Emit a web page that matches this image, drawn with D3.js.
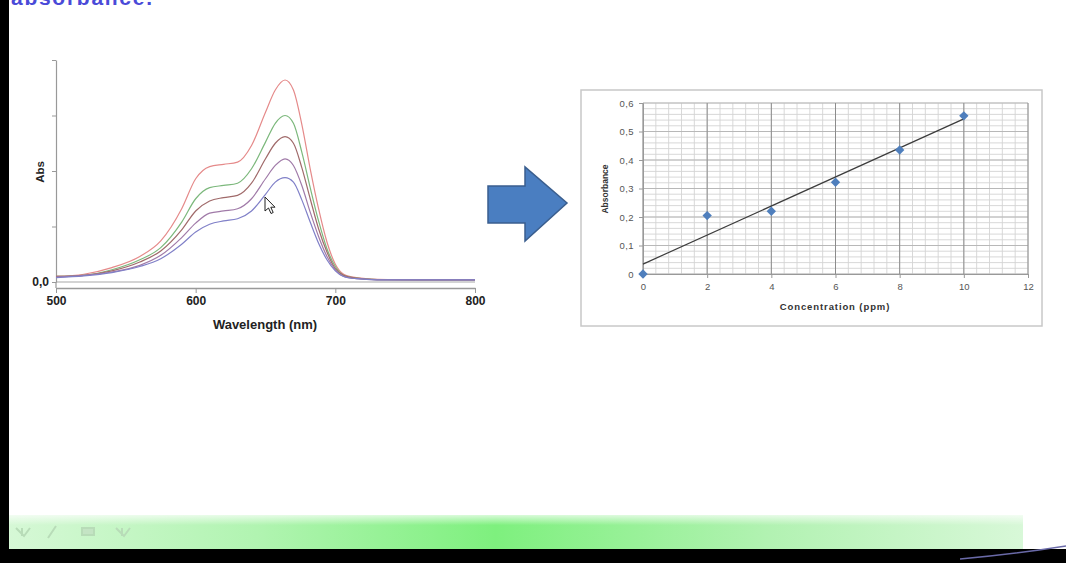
<!DOCTYPE html>
<html>
<head>
<meta charset="utf-8">
<script src="https://cdn.jsdelivr.net/npm/d3@7"></script>
<style>
  body { margin: 0; background: #fff; }
  svg { display: block; font-family: "Liberation Sans", Arial, sans-serif; }
</style>
</head>
<body>
<div id="slide"></div>
<script>
// ---- spectra (left chart) ----
var wavelengths = [500, 520, 540, 560, 575, 590, 600, 610, 620, 630, 640, 650, 657, 664, 670, 676, 682, 688, 694, 700, 706, 715, 730, 760, 800];
var absRed    = [0.05, 0.07, 0.13, 0.23, 0.37, 0.66, 0.93, 1.04, 1.06, 1.08, 1.23, 1.53, 1.73, 1.82, 1.73, 1.42, 1.02, 0.66, 0.36, 0.16, 0.07, 0.04, 0.025, 0.02, 0.02];
var absGreen  = [0.05, 0.06, 0.11, 0.20, 0.31, 0.54, 0.75, 0.85, 0.87, 0.89, 1.02, 1.26, 1.43, 1.50, 1.43, 1.17, 0.85, 0.55, 0.30, 0.14, 0.06, 0.035, 0.022, 0.02, 0.02];
var absBrown  = [0.05, 0.06, 0.10, 0.18, 0.28, 0.47, 0.64, 0.73, 0.76, 0.78, 0.89, 1.11, 1.25, 1.31, 1.25, 1.03, 0.75, 0.48, 0.27, 0.12, 0.06, 0.035, 0.022, 0.02, 0.02];
var absPurple = [0.045, 0.06, 0.09, 0.15, 0.24, 0.40, 0.53, 0.62, 0.64, 0.66, 0.75, 0.93, 1.05, 1.11, 1.05, 0.87, 0.63, 0.41, 0.23, 0.11, 0.05, 0.03, 0.02, 0.02, 0.02];
var absBlue   = [0.04, 0.055, 0.085, 0.14, 0.21, 0.34, 0.45, 0.52, 0.55, 0.57, 0.64, 0.79, 0.90, 0.94, 0.90, 0.74, 0.54, 0.35, 0.20, 0.10, 0.05, 0.03, 0.02, 0.02, 0.02];
var spectra = [absRed, absGreen, absBrown, absPurple, absBlue];
var spectraColors = ["#e58a8a", "#7cb87c", "#a06a6a", "#a07aa8", "#8080c8"];
var wlTicks = [500, 600, 700, 800];
var absTicks = [0, 0.5, 1, 1.5, 2];

// ---- calibration (right chart) ----
var concentration = [0, 2, 4, 6, 8, 10];
var absorbance = [0, 0.205, 0.22, 0.322, 0.435, 0.555];
var concTicks = [0, 2, 4, 6, 8, 10, 12];
var absorbTicks = [0, 0.1, 0.2, 0.3, 0.4, 0.5, 0.6];
var absorbTickLabels = ["0", "0,1", "0,2", "0,3", "0,4", "0,5", "0,6"];

var W = 1066, H = 563;

var svg = d3.select("#slide")
  .append("svg")
    .attr("width", W)
    .attr("height", H);

var defs = svg.append("defs");

// green bar gradient at the bottom of the slide
var grad = defs.append("linearGradient")
  .attr("id", "greenbar")
  .attr("x1", "0%").attr("x2", "100%");
grad.append("stop").attr("offset", "0%").attr("stop-color", "#d6f8d6");
grad.append("stop").attr("offset", "25%").attr("stop-color", "#b0f4b0");
grad.append("stop").attr("offset", "48%").attr("stop-color", "#7ef07e");
grad.append("stop").attr("offset", "75%").attr("stop-color", "#b2f2b2");
grad.append("stop").attr("offset", "100%").attr("stop-color", "#d8f8d8");

var fade = defs.append("linearGradient")
  .attr("id", "barfade")
  .attr("x1", "0").attr("x2", "0").attr("y1", "0").attr("y2", "1");
fade.append("stop").attr("offset", "0%").attr("stop-color", "#fff").attr("stop-opacity", 0.7);
fade.append("stop").attr("offset", "30%").attr("stop-color", "#fff").attr("stop-opacity", 0);

// title text cut off at the top of the slide
svg.append("text")
  .attr("x", 11)
  .attr("y", 5)
  .attr("textLength", 141)
  .style("font-size", "21px")
  .style("font-weight", "bold")
  .style("fill", "#4a4ad8")
  .text("absorbance.");

//*****LEFT CHART: SPECTRA*****//

var x1 = d3.scaleLinear().domain([500, 800]).range([56, 475]);
var y1 = d3.scaleLinear().domain([0, 2]).range([282, 60]);

var left = svg.append("g");

// zero line
left.append("line")
  .attr("x1", x1(500)).attr("x2", x1(800))
  .attr("y1", y1(0)).attr("y2", y1(0))
  .style("stroke", "#a8a8a8")
  .style("stroke-width", 1.2);

// x axis
var xAxis1 = left.append("g")
  .attr("transform", "translate(0,288)")
  .call(d3.axisBottom(x1).tickValues(wlTicks).tickSize(5).tickSizeOuter(0).tickFormat(d3.format("d")));
xAxis1.select(".domain").style("stroke", "#999").style("stroke-width", 1.5);
xAxis1.selectAll("line").style("stroke", "#999");
xAxis1.selectAll("text")
  .style("font-size", "12px")
  .style("font-weight", "bold")
  .style("fill", "#222");

// y axis
var yAxis1 = left.append("g")
  .attr("transform", "translate(56,0)")
  .call(d3.axisLeft(y1).tickValues(absTicks).tickSize(4).tickSizeOuter(0)
    .tickFormat(function(d) { return d == 0 ? "0,0" : ""; }));
yAxis1.select(".domain").style("stroke", "#999").style("stroke-width", 1.2);
yAxis1.selectAll("line").style("stroke", "#999");
yAxis1.selectAll("text")
  .style("font-size", "12px")
  .style("font-weight", "bold")
  .style("fill", "#222");
left.append("line")
  .attr("x1", 56).attr("x2", 56)
  .attr("y1", y1(0)).attr("y2", 288)
  .style("stroke", "#999").style("stroke-width", 1.2);

// spectra lines
var line1 = d3.line()
  .x(function(d, i) { return x1(wavelengths[i]); })
  .y(function(d) { return y1(d); })
  .curve(d3.curveMonotoneX);

left.selectAll(".spec")
  .data(spectra)
  .enter()
  .append("path")
    .attr("class", "spec")
    .attr("d", line1)
    .style("fill", "none")
    .style("stroke", function(d, i) { return spectraColors[i]; })
    .style("stroke-width", 1.2);

// labels
left.append("text")
  .attr("x", 265)
  .attr("y", 329)
  .attr("text-anchor", "middle")
  .style("font-size", "13px")
  .style("font-weight", "bold")
  .style("fill", "#222")
  .text("Wavelength (nm)");

left.append("text")
  .attr("transform", "translate(44,172) rotate(-90)")
  .attr("text-anchor", "middle")
  .style("font-size", "11.5px")
  .style("font-weight", "bold")
  .style("fill", "#222")
  .text("Abs");

// mouse pointer
left.append("path")
  .attr("d", "M265,197 L265,211 L268.5,208 L271,213.5 L273.2,212.5 L270.8,207.2 L275,207.2 Z")
  .style("fill", "#fff")
  .style("stroke", "#222")
  .style("stroke-width", 1);

//*****ARROW*****//
svg.append("path")
  .attr("d", "M488,186 L525,186 L525,167 L567,203 L525,241 L525,223 L488,223 Z")
  .style("fill", "#4a7ec1")
  .style("stroke", "#3a5e8e")
  .style("stroke-width", 1.5);

//*****RIGHT CHART: CALIBRATION*****//

var x2 = d3.scaleLinear().domain([0, 12]).range([643, 1028]);
var y2 = d3.scaleLinear().domain([0, 0.6]).range([274, 103]);

var right = svg.append("g");

// chart frame
right.append("rect")
  .attr("x", 581).attr("y", 90)
  .attr("width", 461).attr("height", 236)
  .style("fill", "#fff")
  .style("stroke", "#c8c8c8")
  .style("stroke-width", 1.5);

// minor grid
right.append("g")
  .selectAll("line")
  .data(d3.range(0, 0.6001, 0.02))
  .enter()
  .append("line")
    .attr("x1", x2(0)).attr("x2", x2(12))
    .attr("y1", function(d) { return y2(d); })
    .attr("y2", function(d) { return y2(d); })
    .style("stroke", "#d4d4d4")
    .style("stroke-width", 0.9);

right.append("g")
  .selectAll("line")
  .data(d3.range(0, 12.001, 0.4))
  .enter()
  .append("line")
    .attr("x1", function(d) { return x2(d); })
    .attr("x2", function(d) { return x2(d); })
    .attr("y1", y2(0)).attr("y2", y2(0.6))
    .style("stroke", "#d4d4d4")
    .style("stroke-width", 0.9);

// major grid
right.append("g")
  .selectAll("line")
  .data(absorbTicks)
  .enter()
  .append("line")
    .attr("x1", x2(0)).attr("x2", x2(12))
    .attr("y1", function(d) { return y2(d); })
    .attr("y2", function(d) { return y2(d); })
    .style("stroke", "#b8b8b8")
    .style("stroke-width", 1);

right.append("g")
  .selectAll("line")
  .data(concTicks)
  .enter()
  .append("line")
    .attr("x1", function(d) { return x2(d); })
    .attr("x2", function(d) { return x2(d); })
    .attr("y1", y2(0)).attr("y2", y2(0.6))
    .style("stroke", "#8c8c8c")
    .style("stroke-width", 1);

// axes
var xAxis2 = right.append("g")
  .attr("transform", "translate(0," + y2(0) + ")")
  .call(d3.axisBottom(x2).tickValues(concTicks).tickSize(4).tickSizeOuter(0).tickPadding(5));
xAxis2.select(".domain").style("stroke", "#999");
xAxis2.selectAll("line").style("stroke", "#999");
xAxis2.selectAll("text")
  .style("font-size", "9.5px")
  .style("fill", "#555");

var yAxis2 = right.append("g")
  .attr("transform", "translate(" + x2(0) + ",0)")
  .call(d3.axisLeft(y2).tickValues(absorbTicks).tickSize(4).tickSizeOuter(0).tickPadding(5)
    .tickFormat(function(d, i) { return absorbTickLabels[i]; }));
yAxis2.select(".domain").style("stroke", "#999");
yAxis2.selectAll("line").style("stroke", "#999");
yAxis2.selectAll("text")
  .style("font-size", "9.5px")
  .style("letter-spacing", "0.4px")
  .style("fill", "#555");

// trend line (least squares through the points)
var mx = d3.mean(concentration), my = d3.mean(absorbance);
var sxy = d3.sum(concentration, function(c, i) { return (c - mx) * (absorbance[i] - my); });
var sxx = d3.sum(concentration, function(c) { return (c - mx) * (c - mx); });
var slope = sxy / sxx, intercept = my - slope * mx;

right.append("line")
  .attr("x1", x2(0)).attr("y1", y2(intercept))
  .attr("x2", x2(10)).attr("y2", y2(intercept + slope * 10))
  .style("stroke", "#3c3c3c")
  .style("stroke-width", 1.2);

// points
right.append("g")
  .selectAll("path")
  .data(concentration)
  .enter()
  .append("path")
    .attr("transform", function(d, i) { return "translate(" + x2(d) + "," + y2(absorbance[i]) + ")"; })
    .attr("d", d3.symbol().type(d3.symbolDiamond2).size(56))
    .style("fill", "#4f7fbd");

// labels
right.append("text")
  .attr("x", 835)
  .attr("y", 310)
  .attr("text-anchor", "middle")
  .style("font-size", "9.5px")
  .style("font-weight", "bold")
  .style("letter-spacing", "0.9px")
  .style("fill", "#333")
  .text("Concentration (ppm)");

right.append("text")
  .attr("transform", "translate(608,189) rotate(-90)")
  .attr("text-anchor", "middle")
  .style("font-size", "8.5px")
  .style("font-weight", "bold")
  .style("fill", "#333")
  .text("Absorbance");

//*****SLIDE FRAME*****//

// green bar
svg.append("rect")
  .attr("x", 9).attr("y", 515)
  .attr("width", 1014).attr("height", 34)
  .style("fill", "url(#greenbar)");
svg.append("rect")
  .attr("x", 9).attr("y", 515)
  .attr("width", 1014).attr("height", 34)
  .style("fill", "url(#barfade)");

// faint toolbar icons
var icons = svg.append("g")
  .style("fill", "none")
  .style("stroke", "#b8dcb8")
  .style("stroke-width", 2);
icons.append("path").attr("d", "M16,528 L24,536 L30,528 M22,536 L22,528");
icons.append("path").attr("d", "M48,538 L56,526");
icons.append("rect").attr("x", 82).attr("y", 528).attr("width", 12).attr("height", 7).style("fill", "#c4e4c4");
icons.append("path").attr("d", "M116,528 L124,536 L130,528 M122,536 L122,528");

// black borders
svg.append("rect")
  .attr("x", 0).attr("y", 0)
  .attr("width", 9).attr("height", H)
  .style("fill", "#000");
svg.append("rect")
  .attr("x", 0).attr("y", 549)
  .attr("width", W).attr("height", H - 549)
  .style("fill", "#000");

// squiggle at bottom right
svg.append("path")
  .attr("d", "M960,559 C995,556 1028,552 1066,546")
  .style("fill", "none")
  .style("stroke", "#6a6aa8")
  .style("stroke-width", 1.5);
</script>
</body>
</html>
